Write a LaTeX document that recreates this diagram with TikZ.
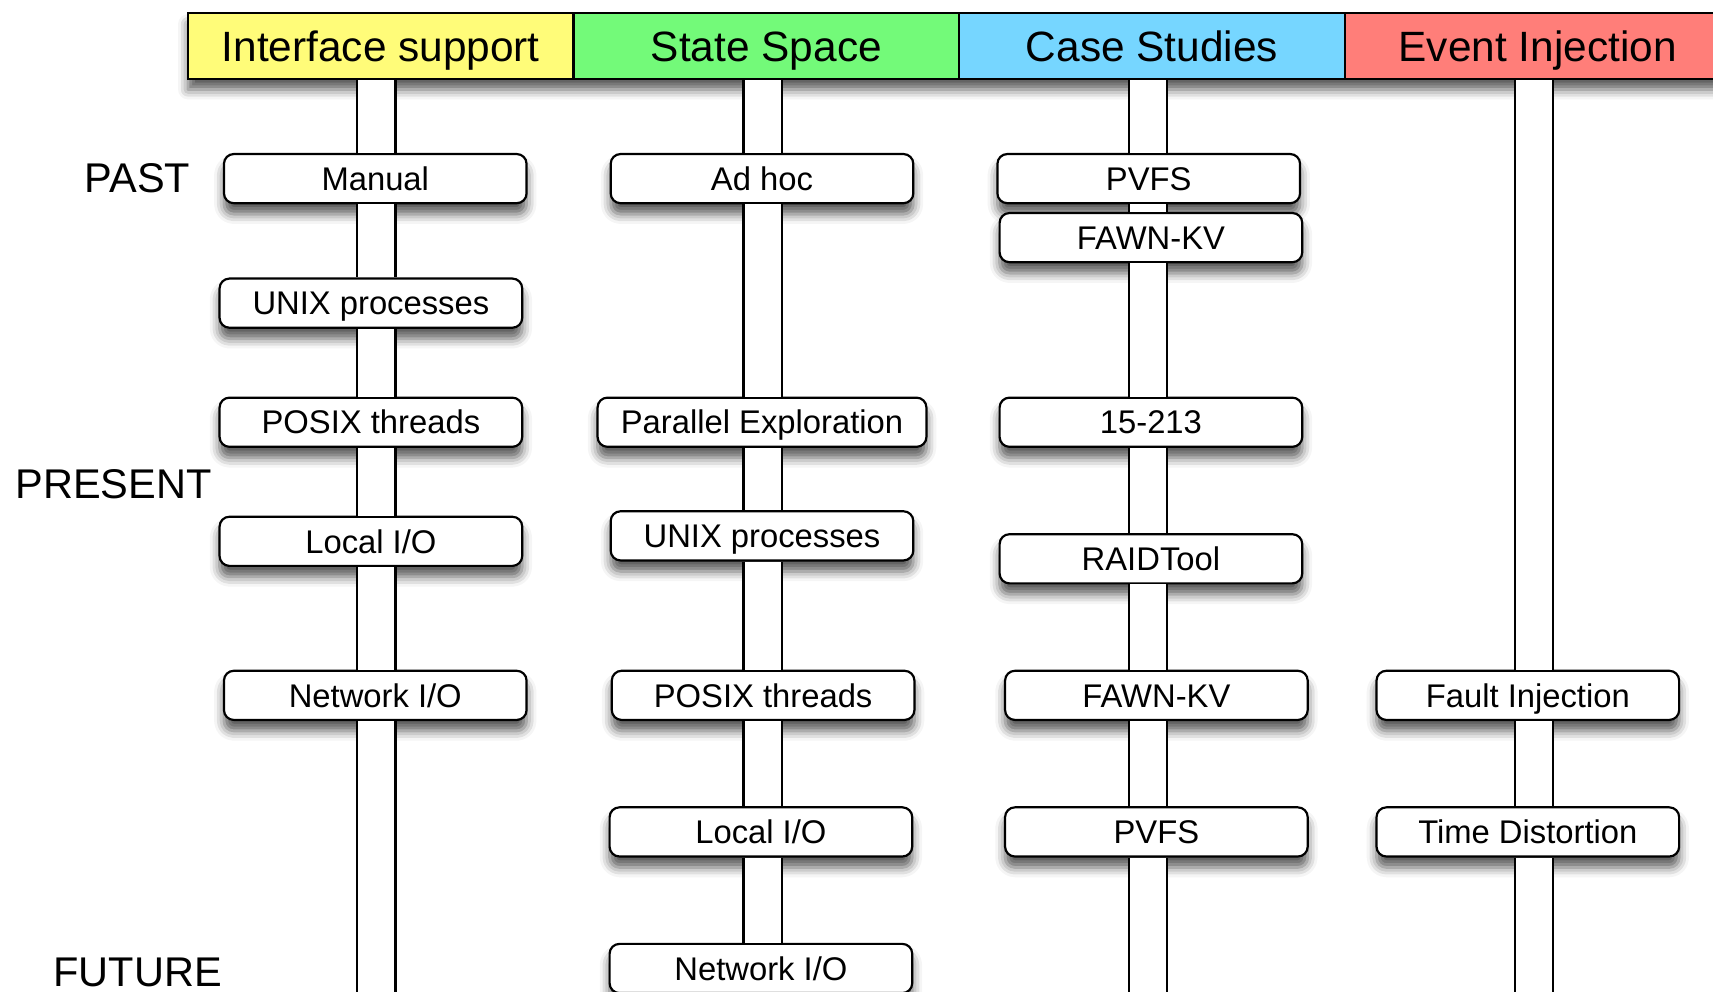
\documentclass[tikz,border=0pt]{standalone}
\usepackage{fontspec}
\setmainfont{Liberation Sans}
\usetikzlibrary{calc,shadows.blur}
\definecolor{banana}{HTML}{FFFC79}
\definecolor{flora}{HTML}{73FA79}
\definecolor{sky}{HTML}{76D6FF}
\definecolor{salmon}{HTML}{FF7E79}
\newcommand\boxfont{\fontsize{15}{18}\selectfont}
\newcommand\headfont{\fontsize{19.4}{23}\selectfont}
\newcommand\labfont{\fontsize{19}{23}\selectfont}
\newcommand\pipeseg[3]{%
  \fill[white] ($(#1 |- #2)+(-17.5,0)$) rectangle ($(#1 |- #3)+(17.5,0)$);
  \draw[pipeedge] ($(#1 |- #2)+(-17.5,0)$) -- ($(#1 |- #3)+(-17.5,0)$);
  \draw[pipeedge] ($(#1 |- #2)+(17.5,0)$) -- ($(#1 |- #3)+(17.5,0)$);}
\begin{document}
\begin{tikzpicture}[x=0.5pt,y=-0.5pt,
  shad/.style={blur shadow={shadow xshift=0pt,shadow yshift=-5pt,shadow blur radius=4.5pt,shadow opacity=65}},
  box/.style={draw,line width=1pt,rounded corners=4.5pt,fill=white,minimum width=138.5pt,minimum height=22.5pt,inner sep=0pt,font=\boxfont,text height=10.7pt,text depth=0pt,shad},
  head/.style={draw,line width=1pt,minimum width=176.5pt,minimum height=30pt,inner sep=0pt,font=\headfont,text height=13.9pt,text depth=0pt},
  lab/.style={font=\labfont,inner sep=0pt,text height=13.6pt,text depth=0pt},
  pipeedge/.style={line width=1pt}]
\clip (0,0) rectangle (1568,908);
% header shadow
\path[shad] (172,12) rectangle (1584,72);
% headers
\node[head,fill=banana] (h1) at (348.5,42) {Interface support};
\node[head,fill=flora]  (h2) at (701.5,42) {State Space};
\node[head,fill=sky]    (h3) at (1054.5,42) {Case Studies};
\node[head,fill=salmon] (h4) at (1407.5,42) {Event Injection};
% pipe axes
\coordinate (p1) at (344.5,0);
\coordinate (p2) at (698,0);
\coordinate (p3) at (1051,0);
\coordinate (p4) at (1404,0);
\coordinate (e1) at (344.5,930);
\coordinate (e2) at (698,930);
\coordinate (e3) at (1051,930);
\coordinate (e4) at (1404,930);
% labels
\node[lab] (past) at (126,163) {PAST};
\node[lab] (present) at (104,443) {PRESENT};
\node[lab] (future) at (126,889) {FUTURE};
% column 1
\node[box] (a1) at (343.5,163.5) {Manual};
\node[box] (a2) at (339.5,277.5) {UNIX processes};
\node[box] (a3) at (339.5,386.5) {POSIX threads};
\node[box] (a4) at (339.5,495.5) {Local I/O};
\node[box] (a5) at (343.5,636.5) {Network I/O};
% column 2
\node[box] (b1) at (697.5,163.5) {Ad hoc};
\node[box,minimum width=150.5pt] (b2) at (697.5,386.5) {Parallel Exploration};
\node[box] (b3) at (697.5,490.5) {UNIX processes};
\node[box] (b4) at (698.5,636.5) {POSIX threads};
\node[box] (b5) at (696.5,761.5) {Local I/O};
\node[box] (b6) at (696.5,886.5) {Network I/O};
% column 3
\node[box] (c1) at (1051.5,163.5) {PVFS};
\node[box] (c2) at (1053.5,217.5) {FAWN-KV};
\node[box] (c3) at (1053.5,386.5) {15-213};
\node[box] (c4) at (1053.5,511.5) {RAIDTool};
\node[box] (c5) at (1058.5,636.5) {FAWN-KV};
\node[box] (c6) at (1058.5,761.5) {PVFS};
% column 4
\node[box] (d1) at (1398.5,636.5) {Fault Injection};
\node[box] (d2) at (1398.5,761.5) {Time Distortion};
% pipes
\pipeseg{p1}{h1.south}{a1.north}
\pipeseg{p1}{a1.south}{a2.north}
\pipeseg{p1}{a2.south}{a3.north}
\pipeseg{p1}{a3.south}{a4.north}
\pipeseg{p1}{a4.south}{a5.north}
\pipeseg{p1}{a5.south}{e1}
\pipeseg{p2}{h2.south}{b1.north}
\pipeseg{p2}{b1.south}{b2.north}
\pipeseg{p2}{b2.south}{b3.north}
\pipeseg{p2}{b3.south}{b4.north}
\pipeseg{p2}{b4.south}{b5.north}
\pipeseg{p2}{b5.south}{b6.north}
\pipeseg{p3}{h3.south}{c1.north}
\pipeseg{p3}{c1.south}{c2.north}
\pipeseg{p3}{c2.south}{c3.north}
\pipeseg{p3}{c3.south}{c4.north}
\pipeseg{p3}{c4.south}{c5.north}
\pipeseg{p3}{c5.south}{c6.north}
\pipeseg{p3}{c6.south}{e3}
\pipeseg{p4}{h4.south}{d1.north}
\pipeseg{p4}{d1.south}{d2.north}
\pipeseg{p4}{d2.south}{e4}
\end{tikzpicture}
\end{document}
